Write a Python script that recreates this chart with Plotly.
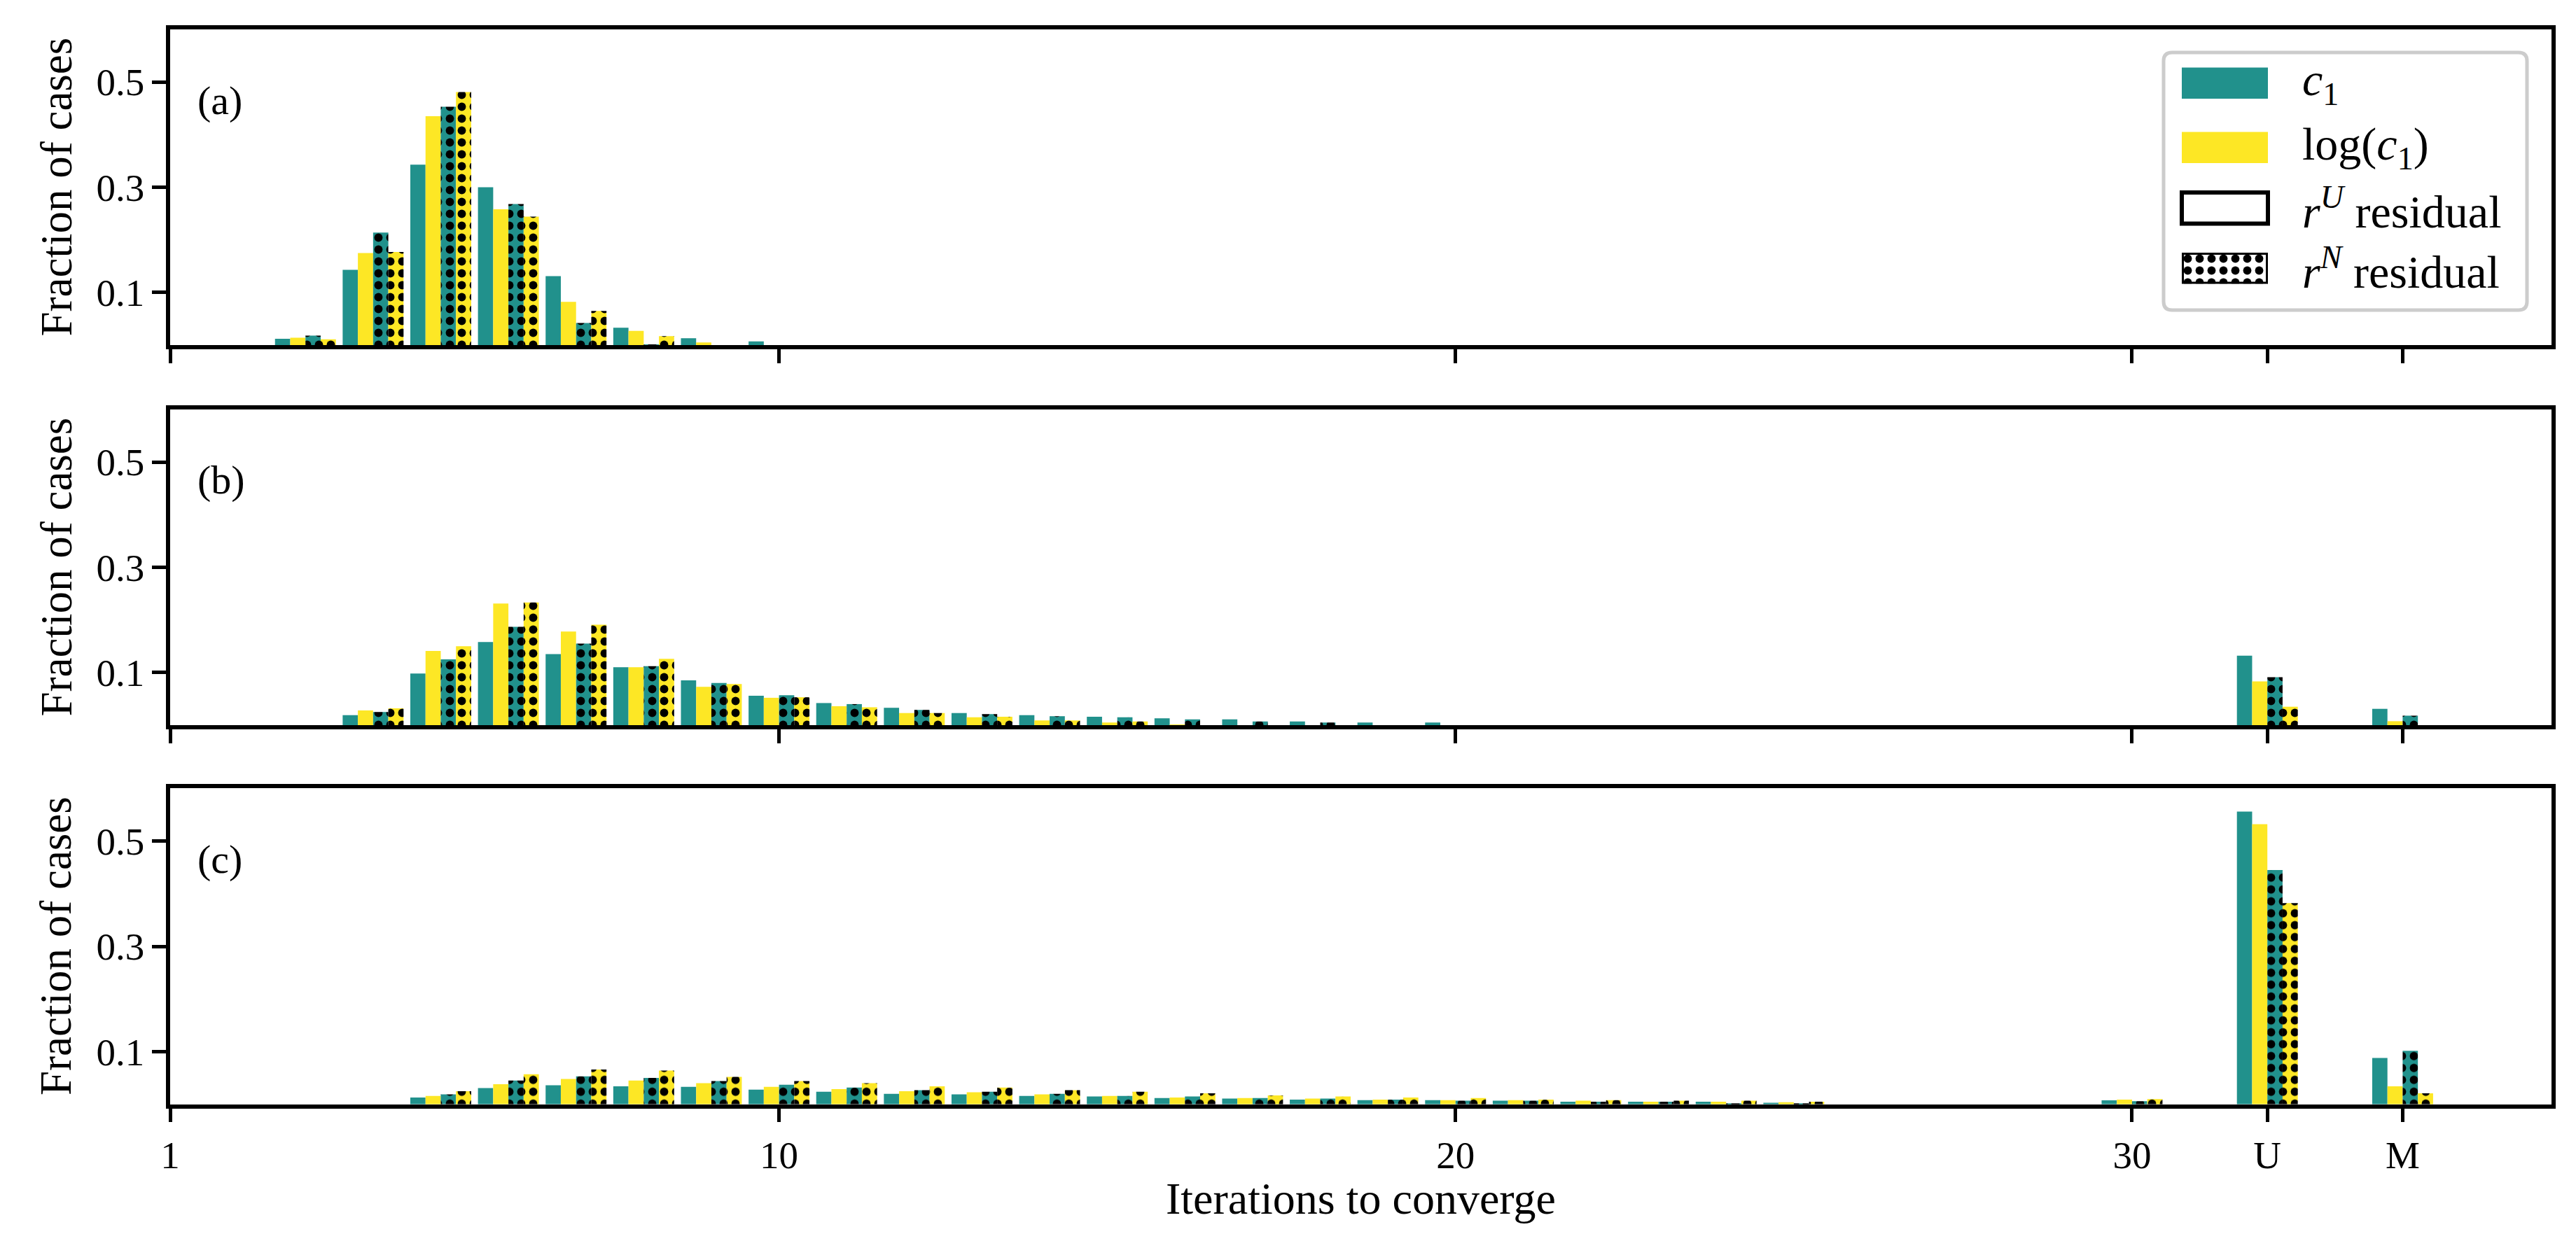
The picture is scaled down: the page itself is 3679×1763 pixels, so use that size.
import plotly.graph_objects as go
from plotly.subplots import make_subplots

# ---------------- data ----------------
iterations = list(range(1, 31))
x_positions = iterations + [32, 34]          # 1..30, then U, M
tick_values = [1, 10, 20, 30, 32, 34]
tick_text = ["1", "10", "20", "30", "U", "M"]
y_ticks = [0.1, 0.3, 0.5]
panel_labels = ["(a)", "(b)", "(c)"]
series_names = ["c1, rU residual", "log(c1), rU residual", "c1, rN residual", "log(c1), rN residual"]

#            it: 1  2  3      4      5      6      7      8      9      10     11 12 13 14 15 16 17 18 19 20 21 22 23 24 25 26 27 28 29 30 U  M
a_c1_U  = [0, 0, 0.012, 0.143, 0.343, 0.300, 0.131, 0.033, 0.013, 0.007, 0, 0, 0, 0, 0, 0, 0, 0, 0, 0, 0, 0, 0, 0, 0, 0, 0, 0, 0, 0, 0, 0]
a_log_U = [0, 0, 0.014, 0.175, 0.435, 0.258, 0.082, 0.027, 0.005, 0,     0, 0, 0, 0, 0, 0, 0, 0, 0, 0, 0, 0, 0, 0, 0, 0, 0, 0, 0, 0, 0, 0]
a_c1_N  = [0, 0, 0.018, 0.214, 0.453, 0.268, 0.042, 0.001, 0,     0,     0, 0, 0, 0, 0, 0, 0, 0, 0, 0, 0, 0, 0, 0, 0, 0, 0, 0, 0, 0, 0, 0]
a_log_N = [0, 0, 0.011, 0.177, 0.481, 0.244, 0.065, 0.017, 0,     0,     0, 0, 0, 0, 0, 0, 0, 0, 0, 0, 0, 0, 0, 0, 0, 0, 0, 0, 0, 0, 0, 0]

b_c1_U  = [0, 0, 0, 0.019, 0.098, 0.158, 0.135, 0.110, 0.085, 0.056, 0.042, 0.033, 0.023, 0.019, 0.016, 0.013, 0.011, 0.007, 0.005, 0.005,
           0, 0, 0, 0, 0, 0, 0, 0, 0, 0, 0.132, 0.031]
b_log_U = [0, 0, 0, 0.028, 0.141, 0.231, 0.178, 0.110, 0.073, 0.052, 0.036, 0.023, 0.015, 0.009, 0.005, 0.001, 0, 0, 0, 0,
           0, 0, 0, 0, 0, 0, 0, 0, 0, 0, 0.083, 0.0075]
b_c1_N  = [0, 0, 0, 0.025, 0.125, 0.187, 0.155, 0.112, 0.080, 0.057, 0.040, 0.029, 0.021, 0.017, 0.015, 0.011, 0.007, 0.005, 0, 0,
           0, 0, 0, 0, 0, 0, 0, 0, 0, 0, 0.091, 0.018]
b_log_N = [0, 0, 0, 0.032, 0.150, 0.233, 0.191, 0.126, 0.078, 0.053, 0.034, 0.023, 0.016, 0.009, 0.007, 0, 0, 0, 0, 0,
           0, 0, 0, 0, 0, 0, 0, 0, 0, 0, 0.035, 0]

c_c1_U  = [0, 0, 0, 0, 0.013, 0.031, 0.036, 0.034, 0.033, 0.028, 0.024, 0.020, 0.019, 0.016, 0.015, 0.012, 0.011, 0.009, 0.008, 0.008,
           0.007, 0.005, 0.005, 0.005, 0.003, 0, 0, 0, 0, 0.0075, 0.556, 0.088]
c_log_U = [0, 0, 0, 0, 0.016, 0.038, 0.048, 0.045, 0.040, 0.033, 0.029, 0.025, 0.023, 0.019, 0.016, 0.013, 0.012, 0.011, 0.009, 0.008,
           0.008, 0.007, 0.005, 0.005, 0.004, 0, 0, 0, 0, 0.009, 0.532, 0.034]
c_c1_N  = [0, 0, 0, 0, 0.019, 0.045, 0.053, 0.050, 0.044, 0.037, 0.032, 0.027, 0.024, 0.020, 0.016, 0.015, 0.012, 0.011, 0.009, 0.007,
           0.007, 0.005, 0.005, 0.002, 0.002, 0, 0, 0, 0, 0.006, 0.445, 0.1015]
c_log_N = [0, 0, 0, 0, 0.025, 0.057, 0.066, 0.064, 0.052, 0.044, 0.040, 0.034, 0.032, 0.027, 0.024, 0.021, 0.017, 0.015, 0.013, 0.012,
           0.009, 0.008, 0.007, 0.007, 0.005, 0, 0, 0, 0, 0.010, 0.382, 0.021]

panels = [
    [a_c1_U, a_log_U, a_c1_N, a_log_N],
    [b_c1_U, b_log_U, b_c1_N, b_log_N],
    [c_c1_U, c_log_U, c_c1_N, c_log_N],
]

# ---------------- style ----------------
W, H = 3679, 1763
TEAL = "#21918c"
YELLOW = "#fde725"
FONT = "Liberation Serif"
colors = [TEAL, YELLOW, TEAL, YELLOW]
dotted = [False, False, True, True]
bar_w = 0.225
offsets = [-0.45, -0.225, 0.0, 0.225]
DOTS = dict(shape=".", fgcolor="black", fgopacity=1, size=17, solidity=0.38, fillmode="overlay")

def px_x(p):
    return p / W

def px_y(p):
    return 1 - p / H

x_dom = [px_x(243), px_x(3644)]
y_doms = [
    [px_y(493), px_y(42)],
    [px_y(1036), px_y(585)],
    [px_y(1577.7), px_y(1126.3)],
]

fig = make_subplots(rows=3, cols=1, shared_xaxes=True)

for r, series in enumerate(panels):
    for j, vals in enumerate(series):
        marker = dict(color=colors[j], line=dict(width=0))
        if dotted[j]:
            marker["pattern"] = DOTS
        fig.add_trace(go.Bar(x=x_positions, y=vals, width=bar_w, offset=offsets[j],
                             marker=marker, name=series_names[j], showlegend=False),
                      row=r + 1, col=1)

axis_common = dict(showline=True, mirror=True, linecolor="black", linewidth=5.5,
                   showgrid=False, zeroline=False, ticks="outside", ticklen=20,
                   tickwidth=5, tickcolor="black", automargin=False,
                   tickfont=dict(family=FONT, size=55, color="black"))

for r in range(3):
    xa = "xaxis" if r == 0 else f"xaxis{r + 1}"
    ya = "yaxis" if r == 0 else f"yaxis{r + 1}"
    fig.layout[xa].update(domain=x_dom, range=[1, 36.2], tickvals=tick_values,
                          ticktext=tick_text, showticklabels=(r == 2), **axis_common)
    fig.layout[ya].update(domain=y_doms[r], range=[0, 0.6], tickvals=y_ticks,
                          ticktext=["0.1", "0.3", "0.5"], **axis_common)

annotations = []
# y titles and panel labels
for r in range(3):
    yc = (y_doms[r][0] + y_doms[r][1]) / 2
    annotations.append(dict(x=px_x(80), y=yc, xref="paper", yref="paper", text="Fraction of cases",
                            textangle=-90, showarrow=False, xanchor="center", yanchor="middle",
                            font=dict(family=FONT, size=63, color="black")))
    annotations.append(dict(x=px_x(280), y=px_y([143, 686, 1227][r]), xref="paper", yref="paper",
                            text=panel_labels[r], showarrow=False, xanchor="left", yanchor="middle",
                            font=dict(family=FONT, size=58, color="black")))
# x title
annotations.append(dict(x=(x_dom[0] + x_dom[1]) / 2, y=px_y(1712), xref="paper", yref="paper",
                        text="Iterations to converge", showarrow=False, xanchor="center",
                        yanchor="middle", font=dict(family=FONT, size=64, color="black")))

# ---------------- manual legend ----------------
legend_texts = ["<i>c</i><sub>1</sub>", "log(<i>c</i><sub>1</sub>)",
                "<i>r</i><sup><i>U</i></sup> residual", "<i>r</i><sup><i>N</i></sup> residual"]
row_y = [118.7, 210.8, 297.2, 383.3]
sw_x0, sw_x1, sw_hh = 3116, 3239, 22.3

shapes = []
# frame with rounded corners (drawn beneath the swatch trace)
fx0, fx1, fy0, fy1, rad = 3090, 3609, 75, 443, 12
rx, ry = rad / W, rad / H
X0, X1, Y0, Y1 = px_x(fx0), px_x(fx1), px_y(fy1), px_y(fy0)
path = (f"M{X0 + rx},{Y1} L{X1 - rx},{Y1} Q{X1},{Y1} {X1},{Y1 - ry} "
        f"L{X1},{Y0 + ry} Q{X1},{Y0} {X1 - rx},{Y0} L{X0 + rx},{Y0} "
        f"Q{X0},{Y0} {X0},{Y0 + ry} L{X0},{Y1 - ry} Q{X0},{Y1} {X0 + rx},{Y1} Z")
shapes.append(dict(type="path", path=path, xref="paper", yref="paper",
                   fillcolor="white", line=dict(color="#cccccc", width=5), layer="below"))
for k, (fc, lw) in enumerate([(TEAL, 0), (YELLOW, 0), ("white", 6)]):
    shapes.append(dict(type="rect", xref="paper", yref="paper",
                       x0=px_x(sw_x0), x1=px_x(sw_x1),
                       y0=px_y(row_y[k] + sw_hh), y1=px_y(row_y[k] - sw_hh),
                       fillcolor=fc, line=dict(color="black", width=lw), layer="above"))
for k, t in enumerate(legend_texts):
    annotations.append(dict(x=px_x(3286), y=px_y(row_y[k]), xref="paper", yref="paper", text=t,
                            showarrow=False, xanchor="left", yanchor="middle",
                            font=dict(family=FONT, size=66, color="black")))

# dotted legend swatch on a hidden axis
fig.add_trace(go.Bar(x=[0.5], y=[1], width=[1], xaxis="x4", yaxis="y4", showlegend=False,
                     hoverinfo="skip",
                     marker=dict(color="white", line=dict(color="black", width=6),
                                 pattern=DOTS)))
fig.update_layout(
    xaxis4=dict(domain=[px_x(sw_x0), px_x(sw_x1)], range=[0, 1], visible=False, fixedrange=True,
                anchor="y4"),
    yaxis4=dict(domain=[px_y(row_y[3] + sw_hh), px_y(row_y[3] - sw_hh)], range=[0, 1],
                visible=False, fixedrange=True, anchor="x4"),
)

fig.update_layout(
    width=W, height=H, margin=dict(l=0, r=0, t=0, b=0),
    paper_bgcolor="white", plot_bgcolor="rgba(0,0,0,0)", barmode="overlay",
    font=dict(family=FONT, color="black"),
    shapes=shapes, annotations=annotations, showlegend=False,
)

fig.write_html("out.html", include_plotlyjs=True, config={"displayModeBar": False},
               post_script="document.body.style.margin='0';document.body.style.overflow='hidden';")
